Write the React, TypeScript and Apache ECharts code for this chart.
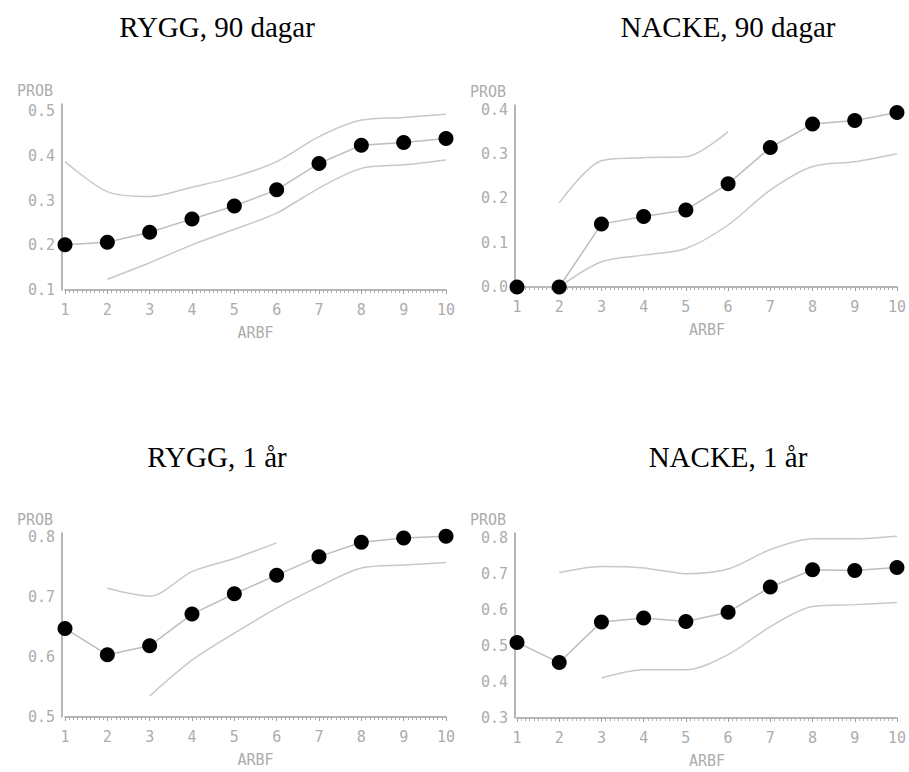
import React, { useEffect, useRef } from "react";
import * as echarts from "echarts";

// ARBF categories (x axis)
const arbf = [1, 2, 3, 4, 5, 6, 7, 8, 9, 10];

// RYGG, 90 dagar
const ryggDays = [0.201, 0.207, 0.229, 0.259, 0.288, 0.324, 0.383, 0.424, 0.43, 0.439];
const ryggDaysUpper = [0.387, 0.32, 0.309, 0.33, 0.353, 0.387, 0.443, 0.48, 0.486, 0.493];
const ryggDaysLower = [null, 0.124, 0.161, 0.201, 0.236, 0.272, 0.328, 0.372, 0.38, 0.391];

// NACKE, 90 dagar
const nackeDays = [0.0, 0.0, 0.142, 0.159, 0.174, 0.233, 0.315, 0.368, 0.376, 0.394];
const nackeDaysUpper = [null, 0.19, 0.285, 0.292, 0.294, 0.351, null, null, null, null];
const nackeDaysLower = [null, 0.0, 0.057, 0.072, 0.087, 0.14, 0.219, 0.272, 0.283, 0.301];

// RYGG, 1 år
const ryggYear = [0.648, 0.604, 0.619, 0.672, 0.706, 0.737, 0.768, 0.792, 0.799, 0.802];
const ryggYearUpper = [null, 0.715, 0.702, 0.743, 0.765, 0.791, null, null, null, null];
const ryggYearLower = [null, null, 0.535, 0.595, 0.64, 0.682, 0.718, 0.749, 0.754, 0.758];

// NACKE, 1 år
const nackeYear = [0.51, 0.454, 0.567, 0.578, 0.568, 0.594, 0.664, 0.712, 0.71, 0.718];
const nackeYearUpper = [null, 0.704, 0.721, 0.717, 0.701, 0.714, 0.768, 0.798, 0.798, 0.805];
const nackeYearLower = [null, null, 0.411, 0.434, 0.434, 0.476, 0.554, 0.61, 0.615, 0.621];

// Titles
const titles = ["RYGG, 90 dagar", "NACKE, 90 dagar", "RYGG, 1 år", "NACKE, 1 år"];

// Y axis ranges per panel: [min, axisEnd]
const yMins = [0.1, 0.0, 0.5, 0.3];
const yMaxs = [0.516, 0.411, 0.8075, 0.814];

const AXIS_GRAY = "#9e9e9e";
const LABEL_GRAY = "#acacac";
const MONO = "DejaVu Sans Mono";

const panels = [
  { main: ryggDays, upper: ryggDaysUpper, lower: ryggDaysLower },
  { main: nackeDays, upper: nackeDaysUpper, lower: nackeDaysLower },
  { main: ryggYear, upper: ryggYearUpper, lower: ryggYearLower },
  { main: nackeYear, upper: nackeYearUpper, lower: nackeYearLower },
];

const grids = [
  { left: 65, right: 463, top: 104, bottom: 482 },
  { left: 517, right: 11, top: 105, bottom: 485 },
  { left: 65, right: 463, top: 533, bottom: 55 },
  { left: 517, right: 11, top: 533, bottom: 54 },
];

const yOffsets = [3, 2, 3, 2];
const titlePos = [
  { x: 217, y: 27 },
  { x: 728, y: 27 },
  { x: 217, y: 457 },
  { x: 728, y: 457 },
];

function pairs(vals: (number | null)[]) {
  return arbf.map((x, i) => [x, vals[i]]);
}

export default function App() {
  const ref = useRef<HTMLDivElement>(null);

  useEffect(() => {
    if (!ref.current) return;
    const chart = echarts.init(ref.current, null, { renderer: "svg" });

    const xAxis = grids.map((_, i) => ({
      type: "value",
      gridIndex: i,
      min: 1,
      max: 10,
      interval: 1,
      name: "ARBF",
      nameLocation: "middle",
      nameGap: 35,
      nameTextStyle: { fontFamily: MONO, fontSize: 15, color: LABEL_GRAY },
      axisLine: { show: true, lineStyle: { color: AXIS_GRAY, width: 1.5 } },
      axisTick: { show: true, length: 4, lineStyle: { color: AXIS_GRAY } },
      minorTick: { show: true, splitNumber: 10, length: 3, lineStyle: { color: "#b0b0b0" } },
      splitLine: { show: false },
      minorSplitLine: { show: false },
      axisLabel: {
        margin: 12,
        fontFamily: MONO,
        fontSize: 15,
        color: LABEL_GRAY,
        formatter: (v: number) => String(Math.round(v)),
      },
    }));

    const yAxis = grids.map((_, i) => ({
      type: "value",
      gridIndex: i,
      min: yMins[i],
      max: yMaxs[i],
      interval: 0.1,
      offset: yOffsets[i],
      name: "PROB",
      nameLocation: "end",
      nameGap: 6,
      nameTextStyle: {
        fontFamily: MONO,
        fontSize: 15,
        color: LABEL_GRAY,
        align: "right",
        padding: [0, 9, 0, 0],
      },
      axisLine: { show: true, lineStyle: { color: AXIS_GRAY, width: 1.5 } },
      axisTick: { show: false },
      splitLine: { show: false },
      axisLabel: {
        margin: 7,
        fontFamily: MONO,
        fontSize: 15,
        color: LABEL_GRAY,
        showMaxLabel: true,
        formatter: (v: number) =>
          Math.abs(v * 10 - Math.round(v * 10)) < 1e-6 ? v.toFixed(1) : "",
      },
    }));

    const series: any[] = [];
    panels.forEach((p, i) => {
      series.push({
        type: "line",
        xAxisIndex: i,
        yAxisIndex: i,
        data: pairs(p.upper),
        smooth: 0.3,
        showSymbol: false,
        symbol: "none",
        lineStyle: { color: "#c8c8c8", width: 1.5 },
        connectNulls: false,
      });
      series.push({
        type: "line",
        xAxisIndex: i,
        yAxisIndex: i,
        data: pairs(p.lower),
        smooth: 0.3,
        showSymbol: false,
        symbol: "none",
        lineStyle: { color: "#c8c8c8", width: 1.5 },
        connectNulls: false,
      });
      series.push({
        type: "line",
        xAxisIndex: i,
        yAxisIndex: i,
        data: pairs(p.main),
        symbol: "circle",
        symbolSize: 15,
        itemStyle: { color: "#000" },
        lineStyle: { color: "#bdbdbd", width: 1.5 },
        z: 5,
      });
    });

    chart.setOption({
      animation: false,
      backgroundColor: "#fff",
      grid: grids,
      xAxis,
      yAxis,
      series,
      graphic: titles.map((t, i) => ({
        type: "text",
        x: titlePos[i].x,
        y: titlePos[i].y,
        style: {
          text: t,
          fontSize: 29,
          fontFamily: "Liberation Serif",
          fill: "#000",
          align: "center",
          verticalAlign: "middle",
        },
      })),
    });

    return () => chart.dispose();
  }, []);

  return (
    <div
      ref={ref}
      style={{ position: "fixed", left: 0, top: 0, width: 909, height: 772, background: "#fff" }}
    />
  );
}
